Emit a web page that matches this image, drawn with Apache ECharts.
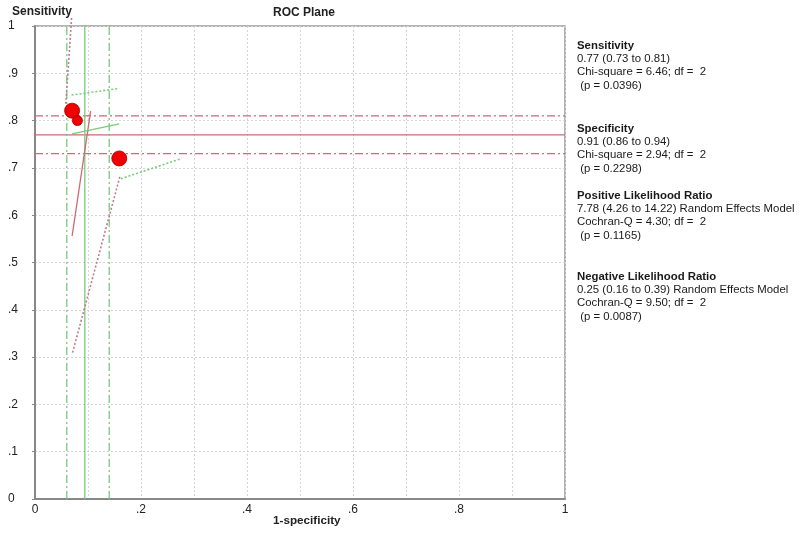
<!DOCTYPE html>
<html>
<head>
<meta charset="utf-8">
<script src="https://cdn.jsdelivr.net/npm/echarts@6/dist/echarts.min.js"></script>
<style>
  html, body { margin: 0; padding: 0; background: #fff; }
  #chart { width: 800px; height: 533px; }
</style>
</head>
<body>
<div id="chart"></div>
<script>
// study points (1-specificity, sensitivity) and marker sizes
var studyFpr = [0.070, 0.080, 0.159];
var studySens = [0.821, 0.800, 0.720];
var studySize = [15, 10, 15];

// pooled estimates
var pooledSens = [0.77, 0.73, 0.81];    // estimate, low, high
var pooledFpr = [0.094, 0.06, 0.14];    // 1 - specificity: estimate, low, high

// per-study confidence segments [x1, y1, x2, y2]
var sensSegments = [
  [0.069, 1.017, 0.058, 0.833],
  [0.105, 0.820, 0.070, 0.556],
  [0.160, 0.681, 0.070, 0.306]
];
var specSegments = [
  [0.069, 0.854, 0.159, 0.868],
  [0.070, 0.772, 0.159, 0.793],
  [0.162, 0.677, 0.277, 0.720]
];
var segmentStyle = ['dotted', 'solid', 'dotted'];

// text panel
var statBlocks = [
  ['Sensitivity', '0.77 (0.73 to 0.81)', 'Chi-square = 6.46; df =  2', ' (p = 0.0396)'],
  ['Specificity', '0.91 (0.86 to 0.94)', 'Chi-square = 2.94; df =  2', ' (p = 0.2298)'],
  ['Positive Likelihood Ratio', '7.78 (4.26 to 14.22) Random Effects Model', 'Cochran-Q = 4.30; df =  2', ' (p = 0.1165)'],
  ['Negative Likelihood Ratio', '0.25 (0.16 to 0.39) Random Effects Model', 'Cochran-Q = 9.50; df =  2', ' (p = 0.0087)']
];
var blockTops = [46, 129, 196, 277];

var FONT = '"Liberation Sans", Arial, sans-serif';
var RED = '#cc6a76';
var RED_DOT = '#c07a88';
var GREEN = '#77cc77';
var dashDot = [8, 3, 2, 3];

function fmt(v) {
  if (v === 0) return '0';
  if (Math.abs(v - 1) < 1e-9) return '1';
  return v.toFixed(1).replace('0.', '.');
}

var series = [];

// pooled sensitivity lines
pooledSens.forEach(function (s, i) {
  series.push({
    type: 'line', silent: true, symbol: 'none', z: 2,
    data: [[0, s], [1, s]],
    lineStyle: { color: RED, width: 1.3, type: i === 0 ? 'solid' : dashDot }
  });
});
// pooled specificity lines
pooledFpr.forEach(function (f, i) {
  series.push({
    type: 'line', silent: true, symbol: 'none', z: 2,
    data: [[f, 0], [f, 1]],
    lineStyle: { color: GREEN, width: 1.3, type: i === 0 ? 'solid' : dashDot }
  });
});

sensSegments.forEach(function (s, i) {
  var dotted = segmentStyle[i] === 'dotted';
  series.push({
    type: 'line', silent: true, symbol: 'none', clip: false, z: 3,
    data: [[s[0], s[1]], [s[2], s[3]]],
    lineStyle: { color: dotted ? RED_DOT : RED, width: dotted ? 1.6 : 1.3, type: dotted ? [2, 2] : 'solid' }
  });
});
specSegments.forEach(function (s, i) {
  var dotted = segmentStyle[i] === 'dotted';
  series.push({
    type: 'line', silent: true, symbol: 'none', clip: false, z: 3,
    data: [[s[0], s[1]], [s[2], s[3]]],
    lineStyle: { color: GREEN, width: dotted ? 1.6 : 1.3, type: dotted ? [2, 2] : 'solid' }
  });
});

series.push({
  type: 'scatter', z: 5,
  data: studyFpr.map(function (x, i) { return [x, studySens[i], studySize[i]]; }),
  symbolSize: function (d) { return d[2]; },
  itemStyle: { color: '#f00000', borderColor: '#990000', borderWidth: 0.8, opacity: 1 }
});

var graphics = [
  { type: 'text', left: 273, top: 7, style: { text: 'ROC Plane', font: 'bold 12px ' + FONT, fill: '#222' } },
  { type: 'text', left: 12, top: 6, style: { text: 'Sensitivity', font: 'bold 12px ' + FONT, fill: '#222' } },
  { type: 'text', left: 273, top: 515, style: { text: '1-specificity', font: 'bold 11.7px ' + FONT, fill: '#222' } }
];
statBlocks.forEach(function (block, b) {
  block.forEach(function (line, j) {
    graphics.push({
      type: 'text', left: 577, top: blockTops[b] - 6 + j * 13.4,
      style: { text: line, font: (j === 0 ? 'bold ' : '') + '11.4px ' + FONT, fill: '#1a1a1a' }
    });
  });
});

var chart = echarts.init(document.getElementById('chart'));
chart.setOption({
  animation: false,
  backgroundColor: '#fff',
  grid: { left: 35, right: 235, top: 26, bottom: 34, show: true, borderColor: '#999', borderWidth: 1.5 },
  xAxis: {
    type: 'value', min: 0, max: 1, interval: 0.2,
    axisLine: { show: true, onZero: false, lineStyle: { color: '#888', width: 2 } },
    axisTick: { show: false },
    minorTick: { show: false, splitNumber: 2 },
    minorSplitLine: { show: true, lineStyle: { color: '#d4d4d4', type: [2, 2], width: 1 } },
    splitLine: { show: true, lineStyle: { color: '#d4d4d4', type: [2, 2], width: 1 } },
    axisLabel: { formatter: fmt, color: '#222', fontFamily: FONT, fontSize: 12, margin: 5 }
  },
  yAxis: {
    type: 'value', min: 0, max: 1, interval: 0.1,
    axisLine: { show: true, onZero: false, lineStyle: { color: '#888', width: 2 } },
    axisTick: { show: true, length: 3, lineStyle: { color: '#888' } },
    splitLine: { show: true, lineStyle: { color: '#d4d4d4', type: [2, 2], width: 1 } },
    axisLabel: { formatter: fmt, color: '#222', fontFamily: FONT, fontSize: 12, align: 'left', margin: 27 }
  },
  series: series,
  graphic: graphics
});
</script>
</body>
</html>
